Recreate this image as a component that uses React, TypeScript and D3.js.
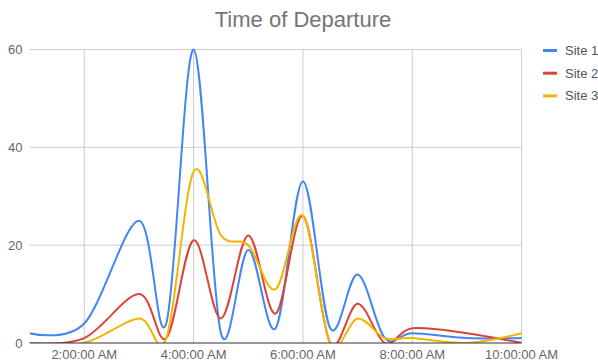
import React from "react";
import * as d3 from "d3";

// Departure times (same day) and the number of departures per site
const times = ["1:00", "2:00", "3:00", "3:30", "4:00", "4:30", "5:00", "5:30", "6:00", "6:30", "7:00", "7:30", "8:00", "9:00", "10:00"];
const site1 = [2, 4, 25, 4, 60, 2, 19, 3, 33, 3, 14, 1, 2, 1, 1];
const site2 = [0, 1, 10, 1, 21, 5, 22, 6, 26, 0, 8, 0, 3, 2, 0];
const site3 = [0, 0, 5, 1, 35, 22, 20, 11, 26, 0, 5, 1, 1, 0, 2];

const seriesNames = ["Site 1", "Site 2", "Site 3"];
const seriesColors = ["#4285f4", "#db4437", "#f4b400"];
const yTicks = [0, 20, 40, 60];
const xTickTimes = ["2:00", "4:00", "6:00", "8:00", "10:00"];
const title = "Time of Departure";

const W = 598;
const H = 362;
const plot = { left: 29.6, right: 521.6, top: 49.5, bottom: 343 };

const toDate = (t: string) => {
  const [h, m] = t.split(":").map(Number);
  return new Date(2020, 0, 1, h, m, 0);
};

const x = d3
  .scaleTime()
  .domain([toDate("1:00"), toDate("10:00")])
  .range([plot.left, plot.right]);
const y = d3.scaleLinear().domain([0, 60]).range([plot.bottom, plot.top]);

const fmt = d3.timeFormat("%-I:%M:%S %p");
const font = "Arial, 'Liberation Sans', sans-serif";

export default function App() {
  const series = [site1, site2, site3];
  const line = d3
    .line<[Date, number]>()
    .x((d) => x(d[0]))
    .y((d) => y(d[1]))
    .curve(d3.curveCardinal.tension(0));

  return (
    <svg
      width={W}
      height={H}
      style={{ position: "absolute", left: 0, top: 0, background: "#fff" }}
    >
      <defs>
        <clipPath id="plotClip">
          <rect x={plot.left} y={plot.top - 6} width={plot.right - plot.left + 2} height={plot.bottom - plot.top + 6} />
        </clipPath>
      </defs>

      <text x={303} y={26.5} textAnchor="middle" fontFamily={font} fontSize={22} fill="#757575">
        {title}
      </text>

      {/* horizontal grid */}
      {yTicks.filter((t) => t !== 0).map((t) => (
        <line key={"h" + t} x1={plot.left} x2={plot.right} y1={y(t)} y2={y(t)} stroke="#cccccc" strokeWidth={1} />
      ))}
      {/* vertical grid */}
      {xTickTimes.map((t) => (
        <line key={"v" + t} x1={x(toDate(t))} x2={x(toDate(t))} y1={plot.top} y2={plot.bottom} stroke="#cccccc" strokeWidth={1} />
      ))}

      {/* y labels */}
      {yTicks.map((t) => (
        <text key={"yl" + t} x={22.5} y={y(t) + 4.5} textAnchor="end" fontFamily={font} fontSize={13} fill="#666">
          {t}
        </text>
      ))}
      {/* x labels */}
      {xTickTimes.map((t) => (
        <text key={"xl" + t} x={x(toDate(t))} y={359} textAnchor="middle" fontFamily={font} fontSize={13} fill="#666">
          {fmt(toDate(t))}
        </text>
      ))}

      <g clipPath="url(#plotClip)">
        {series.map((vals, i) => {
          const pts: [Date, number][] = times.map((t, j) => [toDate(t), vals[j]]);
          return (
            <path key={seriesNames[i]} d={line(pts) ?? ""} fill="none" stroke={seriesColors[i]} strokeWidth={2} />
          );
        })}
      </g>

      {/* baseline */}
      <line x1={plot.left} x2={plot.right} y1={plot.bottom} y2={plot.bottom} stroke="#333" strokeWidth={1} />

      {/* legend */}
      {seriesNames.map((n, i) => (
        <g key={"lg" + n} transform={`translate(543, ${50.5 + i * 22.7})`}>
          <line x1={0} x2={14} y1={0} y2={0} stroke={seriesColors[i]} strokeWidth={3} />
          <text x={22} y={4.5} fontFamily={font} fontSize={13} fill="#555">
            {n}
          </text>
        </g>
      ))}
    </svg>
  );
}
